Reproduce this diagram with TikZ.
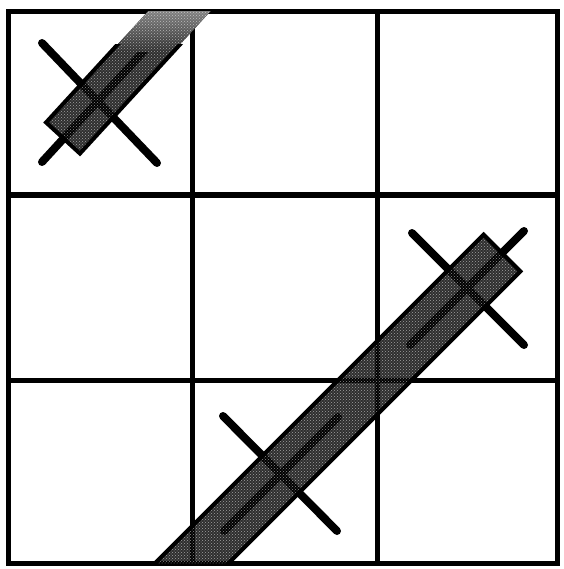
\documentclass[tikz,border=0pt]{standalone}
\usetikzlibrary{patterns}
\begin{document}
\begin{tikzpicture}[x=1pt,y=-1pt,
  gridline/.style={line width=5pt},
  xline/.style={line width=8pt, line cap=round},
  barfill/.style={fill=black, fill opacity=0.82},
  bardots/.style={pattern=crosshatch dots, pattern color=white},
  baredge/.style={line width=4pt, line join=miter}]
\useasboundingbox (0,0) rectangle (563,569);
% grid
\draw[gridline] (8,12) rectangle (557,563);
\draw[gridline] (192,12) -- (192,563);
\draw[gridline] (377,12) -- (377,563);
\draw[gridline] (8,195) -- (557,195);
\draw[gridline] (8,380) -- (557,380);
% crosses
\draw[xline] (42,43) -- (157,163);
\draw[xline] (42,162) -- (154,40);
\draw[xline] (223,416) -- (337,531);
\draw[xline] (224,531) -- (338,417);
\draw[xline] (412,233) -- (524,345);
\draw[xline] (410,345) -- (524,231);
% big bar
\begin{scope}
  \clip (8,12) rectangle (557,563);
  \fill[barfill] (141.6,576.6) -- (178.4,613.4) -- (520.4,271.4) -- (483.6,234.6) -- cycle;
  \fill[bardots, fill opacity=0.55] (141.6,576.6) -- (178.4,613.4) -- (520.4,271.4) -- (483.6,234.6) -- cycle;
  \draw[baredge] (141.6,576.6) -- (483.6,234.6) -- (520.4,271.4) -- (178.4,613.4);
\end{scope}
% top-left bar
\begin{scope}
  \clip (8,12) rectangle (557,563);
  \fill[barfill] (46.05,122.45) -- (79.95,153.55) -- (228.7,-8.6) -- (194.8,-39.7) -- cycle;
  \begin{scope}
    \clip (46.05,122.45) -- (79.95,153.55) -- (228.7,-8.6) -- (194.8,-39.7) -- cycle;
    \shade[top color=black!50, bottom color=black!82] (0,12) rectangle (260,52);
  \end{scope}
  \fill[bardots, fill opacity=0.55] (46.05,122.45) -- (79.95,153.55) -- (228.7,-8.6) -- (194.8,-39.7) -- cycle;
  \begin{scope}
    \clip (0,45) rectangle (563,569);
    \draw[baredge] (194.8,-39.7) -- (46.05,122.45) -- (79.95,153.55) -- (228.7,-8.6);
  \end{scope}
\end{scope}
\end{tikzpicture}
\end{document}
